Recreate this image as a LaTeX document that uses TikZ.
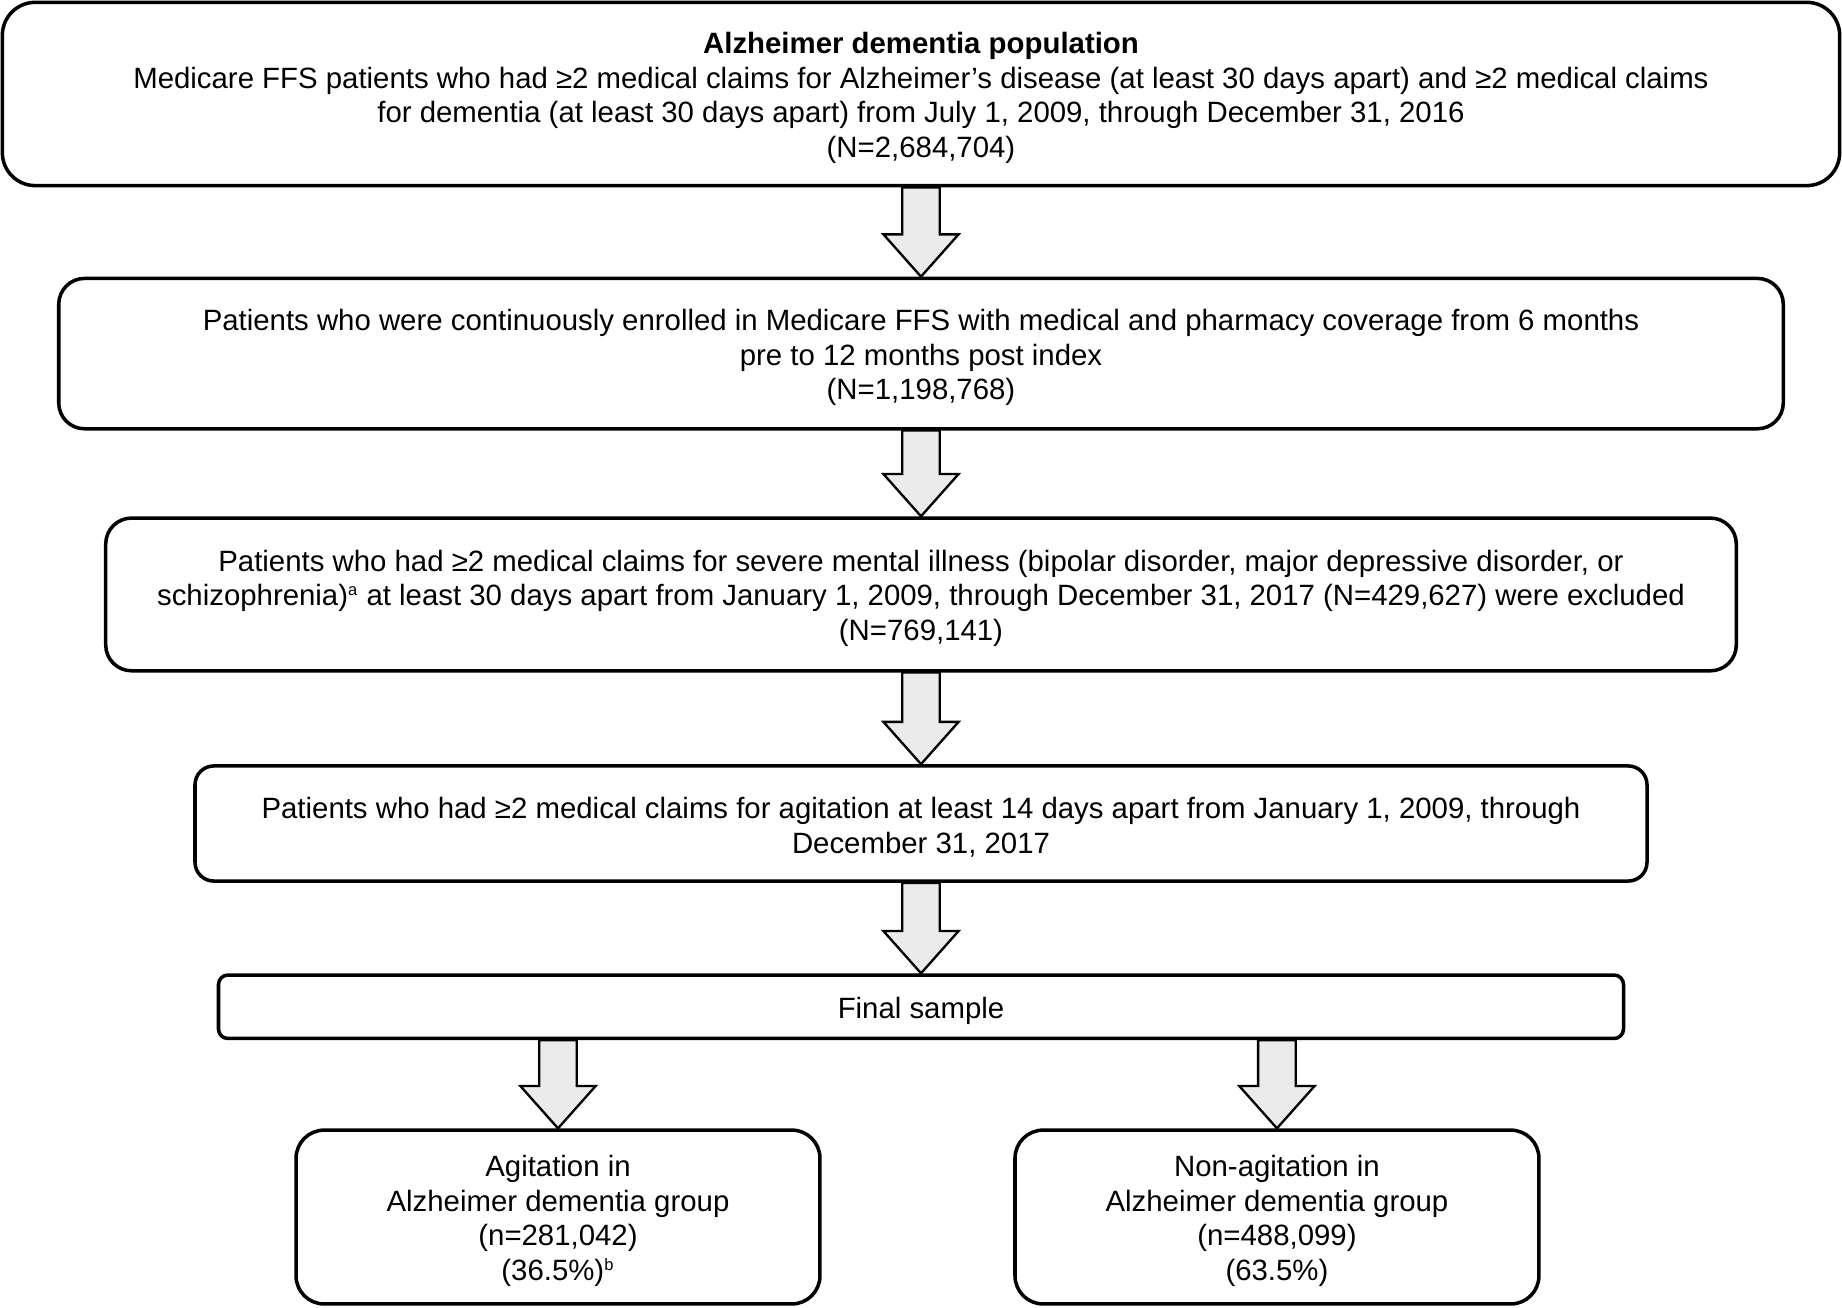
\documentclass[tikz,border=0pt]{standalone}
\usepackage{fontspec}
\setmainfont{Liberation Sans}
\usetikzlibrary{calc,backgrounds}
\definecolor{arrowgray}{HTML}{EBEBEB}
\newcommand\bts{\rule{0pt}{12.3pt}}
\tikzset{
  box/.style={draw, line width=1.5pt, rounded corners=#1, align=center,
    font=\fontsize{12.5}{14.75}\selectfont, inner sep=0pt},
  box/.default=11pt,
  barrow/.style={draw, fill=arrowgray, line width=1pt, line join=miter}
}
\newcommand\blockarrow[2]{%
  \path[barrow] let \p1=(#1.south), \p2=(#2.north) in
    (\x2-8pt,\y1) -- (\x2-8pt,\y2+18pt) -- (\x2-16pt,\y2+18pt) -- (\x2,\y2)
    -- (\x2+16pt,\y2+18pt) -- (\x2+8pt,\y2+18pt) -- (\x2+8pt,\y1) -- cycle;}
\begin{document}
\begin{tikzpicture}[x=0.5pt,y=-0.5pt]
\useasboundingbox (0,0) rectangle (1568,1113);
\node[box=14pt, minimum width=782pt, minimum height=78pt] (pop) at (784,80)
  {\bts\textbf{Alzheimer dementia population}\\
   Medicare FFS patients who had ≥2 medical claims for Alzheimer’s disease (at least 30 days apart) and ≥2 medical claims\\
   for dementia (at least 30 days apart) from July 1, 2009, through December 31, 2016\\
   (N=2,684,704)};
\node[box, minimum width=734pt, minimum height=64pt] (enr) at (784,301)
  {\bts Patients who were continuously enrolled in Medicare FFS with medical and pharmacy coverage from 6 months\\
   pre to 12 months post index\\
   (N=1,198,768)};
\node[box, minimum width=694pt, minimum height=65pt] (smi) at (784,506)
  {\bts Patients who had ≥2 medical claims for severe mental illness (bipolar disorder, major depressive disorder, or\\
   schizophrenia)\textsuperscript{\fontsize{7}{8}\selectfont a} at least 30 days apart from January 1, 2009, through December 31, 2017 (N=429,627) were excluded\\
   (N=769,141)};
\node[box=8pt, minimum width=618pt, minimum height=49pt] (agi) at (784,701)
  {\bts Patients who had ≥2 medical claims for agitation at least 14 days apart from January 1, 2009, through\\
   December 31, 2017};
\node[box=4pt, minimum width=598pt, minimum height=27pt] (fin) at (784,857)
  {\bts Final sample};
\node[box=12pt, minimum width=223pt, minimum height=74pt] (ag) at (475,1036)
  {\bts Agitation in\\ Alzheimer dementia group\\ (n=281,042)\\ (36.5\%)\textsuperscript{\fontsize{7}{8}\selectfont b}};
\node[box=12pt, minimum width=223pt, minimum height=74pt] (nag) at (1087,1036)
  {\bts Non-agitation in\\ Alzheimer dementia group\\ (n=488,099)\\ (63.5\%)};
\begin{scope}[on background layer]
\blockarrow{pop}{enr}
\blockarrow{enr}{smi}
\blockarrow{smi}{agi}
\blockarrow{agi}{fin}
\blockarrow{fin}{ag}
\blockarrow{fin}{nag}
\end{scope}
\end{tikzpicture}
\end{document}
